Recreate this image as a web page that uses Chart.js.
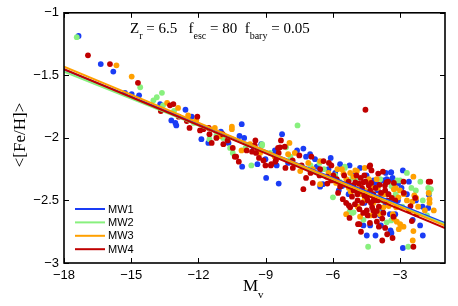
<!DOCTYPE html>
<html>
<head>
<meta charset="utf-8">
<script src="https://cdn.jsdelivr.net/npm/chart.js@4.4.0/dist/chart.umd.min.js"></script>
<style>
    html, body { margin: 0; padding: 0; background: #fff; }
</style>
</head>
<body>
<canvas id="myChart" width="458" height="306"></canvas>
<script>
const seriesNames = ['MW1', 'MW2', 'MW3', 'MW4'];
const colors = ['#1a3cf5', '#88f07e', '#ffa000', '#c00000'];

// [Mv, <[Fe/H]>]
const mw1 = [[-17.35,-1.185],[-16.36,-1.41],[-15.8,-1.47],[-15.28,-1.64],[-14.98,-1.65],[-14.65,-1.66],[-13.71,-1.73],[-12.58,-1.775],
    [-13.21,-1.86],[-13.03,-1.88],[-12.99,-1.90],[-11.87,-2.01],[-11.56,-2.04],[-10.66,-2.04],[-10.07,-1.89],[-10.17,-1.985],[-9.96,-2.00],
    [-10.05,-2.23],[-9.37,-2.21],[-9.55,-2.07],[-9.01,-2.17],[-8.98,-2.32],[-8.51,-2.22],[-8.57,-2.11],[-8.27,-1.97],[-7.32,-2.085],
    [-8.59,-2.10],[-7.02,-2.13],[-8.42,-2.365],[-6.72,-2.23],[-6.1,-2.16],[-5.68,-2.21],[-5.26,-2.22],[-4.79,-2.24],[-4.13,-2.365],
    [-4.19,-2.34],[-3.75,-2.34],[-3.41,-2.275],[-2.88,-2.26],[-3.6,-2.33],[-3.36,-2.33],[-3.09,-2.365],[-2.61,-2.35],[-2.94,-2.40],
    [-4.19,-2.355],[-4.04,-2.365],[-1.72,-2.455],[-2.11,-2.70],[-1.99,-2.78],[-2.88,-2.88],[-2.44,-2.655],[-3.39,-2.76],[-4.1,-2.78],
    [-4.49,-2.78],[-3.86,-2.70],[-5.74,-2.42],[-6.45,-2.37],[-6.57,-2.39],[-5.59,-2.385],[-3.66,-2.52],[-3.8,-2.58],[-4.64,-2.70],
    [-4.34,-2.70],[-3.64,-2.28],[-3.4,-2.275],[-3.34,-2.32],[-3.46,-2.61],[-3.22,-2.61],[-3.43,-2.74],[-1.75,-2.56],[-6.8,-2.17],
    [-5.1,-2.30],[-4.5,-2.30],[-7.6,-2.10],[-5.9,-2.28],[-4.0,-2.42],[-3.55,-2.45],[-3.1,-2.50],[-2.7,-2.45],[-2.3,-2.50],[-2.0,-2.55],
    [-4.6,-2.52],[-5.3,-2.45],[-6.2,-2.25],[-7.2,-2.15],[-8.0,-2.20],[-9.2,-2.05],[-11.0,-1.95],[-12.3,-1.83],[-3.9,-2.62]];
const mw2 = [[-17.43,-1.195],[-14.6,-1.595],[-14.01,-1.70],[-13.86,-1.675],[-13.63,-1.64],[-13.58,-1.74],[-13.09,-1.785],[-11.51,-2.01],
    [-10.59,-2.08],[-10.47,-2.12],[-9.64,-2.22],[-9.16,-2.06],[-7.58,-1.90],[-9.16,-2.05],[-8.09,-2.075],[-5.47,-2.24],[-5.14,-2.32],
    [-4.93,-2.32],[-2.70,-2.28],[-1.75,-2.40],[-1.63,-2.41],[-3.89,-2.33],[-3.13,-2.34],[-3.39,-2.385],[-1.99,-2.50],[-2.64,-2.87],
    [-3.33,-2.63],[-4.43,-2.87],[-6.0,-2.475],[-5.26,-2.59],[-5.14,-2.60],[-5.47,-2.23],[-3.6,-2.675],[-5.08,-2.595],[-4.64,-2.655],
    [-3.4,-2.66],[-3.0,-2.34],[-1.7,-2.44],[-2.3,-2.42],[-6.4,-2.25],[-7.0,-2.22],[-8.8,-2.12],[-11.2,-1.98],[-12.2,-1.88],
    [-4.2,-2.45],[-5.7,-2.35],[-2.9,-2.55],[-4.4,-2.35],[-3.8,-2.50],[-3.2,-2.45],[-2.5,-2.40],[-2.1,-2.35],[-4.9,-2.42],[-5.9,-2.30],
    [-6.6,-2.20],[-7.9,-2.15],[-9.9,-2.08],[-10.9,-2.00],[-1.8,-2.62],[-4.0,-2.58]];
const mw3 = [[-15.66,-1.42],[-14.98,-1.51],[-12.91,-1.76],[-12.46,-1.82],[-11.27,-1.92],[-10.51,-1.91],[-10.51,-1.93],[-11.04,-1.985],
    [-10.08,-2.10],[-9.25,-2.12],[-7.94,-2.04],[-7.46,-2.265],[-6.57,-2.37],[-6.57,-2.185],[-5.53,-2.285],[-5.23,-2.28],[-5.08,-2.31],
    [-4.93,-2.265],[-5.47,-2.37],[-5.29,-2.40],[-4.58,-2.24],[-2.41,-2.31],[-1.69,-2.49],[-1.69,-2.52],[-2.37,-2.46],[-2.29,-2.48],
    [-2.46,-2.51],[-2.41,-2.745],[-2.44,-2.82],[-2.85,-2.71],[-3.06,-2.73],[-3.15,-2.67],[-3.0,-2.69],[-3.33,-2.61],[-3.18,-2.555],
    [-5.41,-2.61],[-3.75,-2.555],[-3.51,-2.545],[-4.79,-2.63],[-4.34,-2.62],[-3.89,-2.61],[-4.58,-2.42],[-4.79,-2.37],[-5.86,-2.36],
    [-1.5,-2.58],[-3.28,-2.41],[-3.01,-2.42],[-3.08,-2.475],[-2.84,-2.45],[-3.28,-2.645],[-1.73,-2.44],[-5.6,-2.25],[-5.0,-2.26],
    [-4.4,-2.33],[-4.0,-2.40],[-6.2,-2.28],[-7.1,-2.20],[-8.0,-2.13],[-4.6,-2.50],[-4.2,-2.52],[-3.9,-2.46],[-5.2,-2.43],
    [-5.8,-2.25],[-5.4,-2.33],[-5.0,-2.40],[-4.8,-2.45],[-4.45,-2.45],[-4.25,-2.40],[-4.05,-2.33],[-3.7,-2.45],[-3.45,-2.50],
    [-3.2,-2.40],[-2.7,-2.50],[-2.2,-2.55],[-1.9,-2.58],[-6.9,-2.25],[-7.7,-2.12],[-8.6,-2.15],[-9.7,-2.05],[-12.1,-1.86],
    [-13.4,-1.72],[-4.9,-2.55]];
const mw4 = [[-16.93,-1.34],[-15.95,-1.41],[-14.7,-1.56],[-13.68,-1.785],[-13.27,-1.74],[-13.12,-1.73],[-12.88,-1.83],[-12.52,-1.865],
    [-12.40,-1.92],[-12.05,-1.83],[-11.93,-1.94],[-11.78,-1.93],[-11.54,-1.92],[-11.51,-1.97],[-11.41,-2.04],[-10.92,-1.97],[-10.89,-2.05],
    [-10.32,-2.15],[-10.20,-2.19],[-9.85,-2.10],[-9.61,-2.11],[-9.43,-2.12],[-9.01,-2.22],[-8.77,-2.22],[-8.45,-2.08],[-8.42,-2.12],
    [-8.54,-2.175],[-8.36,-2.075],[-8.15,-2.07],[-7.50,-2.14],[-6.96,-2.15],[-9.1,-2.18],[-8.75,-2.21],[-8.57,-2.19],[-8.12,-2.24],
    [-7.79,-2.24],[-7.32,-2.41],[-6.90,-2.36],[-7.2,-2.32],[-6.42,-2.185],[-6.18,-2.20],[-6.07,-2.22],[-6.27,-2.31],[-6.07,-2.34],
    [-5.83,-2.33],[-5.68,-2.39],[-5.0,-2.355],[-4.84,-2.365],[-4.55,-1.775],[-4.37,-2.23],[-4.28,-2.26],[-3.98,-2.285],[-3.77,-2.27],
    [-1.66,-2.35],[-3.54,-2.35],[-3.68,-2.38],[-3.92,-2.375],[-2.85,-2.35],[-2.26,-2.61],[-2.41,-2.87],[-3.30,-2.63],[-4.75,-2.75],
    [-4.82,-2.69],[-3.8,-2.82],[-5.77,-2.44],[-5.56,-2.49],[-5.41,-2.52],[-5.29,-2.54],[-5.26,-2.64],[-4.88,-2.69],[-8.32,-2.02],
    [-9.46,-2.02],[-9.49,-2.06],[-10.47,-2.08],[-10.38,-2.15],[-3.8,-2.645],[-5.02,-2.53],[-4.82,-2.57],[-5.23,-2.555],[-4.04,-2.67],
    [-3.95,-2.71],[-4.49,-2.58],[-4.25,-2.555],[-4.04,-2.585],[-4.34,-2.42],[-4.49,-2.475],[-4.19,-2.50],[-5.08,-2.42],[-4.91,-2.45],
    [-4.76,-2.32],[-4.64,-2.355],[-5.98,-2.30],[-6.25,-2.365],[-6.57,-2.25],[-4.34,-2.22],[-3.61,-2.355],[-3.28,-2.36],[-2.33,-2.48],
    [-3.67,-2.42],[-3.52,-2.45],[-3.37,-2.48],[-3.22,-2.50],[-3.58,-2.50],[-2.84,-2.44],[-2.54,-2.545],[-2.6,-2.58],[-2.48,-2.665],
    [-3.58,-2.77],[-3.34,-2.80],[-3.67,-2.72],[-1.73,-2.35],[-4.4,-2.38],[-4.2,-2.45],[-4.1,-2.40],[-4.3,-2.52],[-4.45,-2.62],
    [-4.15,-2.62],[-4.0,-2.50],[-4.6,-2.46],[-4.7,-2.52],[-5.5,-2.30],[-5.3,-2.35],[-5.1,-2.38],[-4.95,-2.30],[-4.7,-2.40],
    [-4.55,-2.35],[-4.45,-2.50],[-4.3,-2.36],[-4.2,-2.58],[-4.1,-2.48],[-3.95,-2.55],[-3.85,-2.44],[-3.75,-2.60],[-4.65,-2.60],
    [-4.9,-2.50],[-5.15,-2.47],[-4.35,-2.68],[-4.6,-2.30],[-7.8,-2.18],[-7.4,-2.22],[-7.0,-2.28],[-6.6,-2.30],[-10.7,-2.02],
    [-11.2,-2.00],[-9.3,-2.16]];

// linear fits, end points
const fitX = [-18, -1];
const fitMW1 = [-1.455, -2.68];
const fitMW2 = [-1.47, -2.69];
const fitMW3 = [-1.43, -2.70];
const fitMW4 = [-1.45, -2.72];

const xTicks = [-18, -15, -12, -9, -6, -3];
const yTicks = [-3, -2.5, -2, -1.5, -1];

const points = [mw1, mw2, mw3, mw4];
const fits = [fitMW1, fitMW2, fitMW3, fitMW4];

let datasets = [];
for (let i = 0; i < 4; i++) {
    datasets.push({
        label: seriesNames[i],
        data: fits[i].map((y, j) => ({ x: fitX[j], y: y })),
        showLine: true,
        borderColor: colors[i],
        borderWidth: 2,
        pointRadius: 0,
        order: 3 - i
    });
}
for (let i = 0; i < 4; i++) {
    datasets.push({
        label: seriesNames[i] + ' pts',
        data: points[i].map(p => ({ x: p[0], y: p[1] })),
        backgroundColor: colors[i],
        borderWidth: 0,
        pointRadius: 2.9,
        order: 10 - i
    });
}

function minus(v) {
    return String(v).replace('-', '\u2212');
}

function drawParts(ctx, parts, x, y) {
    for (const p of parts) {
        ctx.font = p[1] ? '10px "Liberation Serif"' : '15px "Liberation Serif"';
        ctx.fillText(p[0], x, p[1] ? y + 6 : y);
        x += ctx.measureText(p[0]).width;
    }
}

const extras = {
    id: 'extras',
    afterDraw(chart) {
        const ctx = chart.ctx;
        const a = chart.chartArea;
        const xs = chart.scales.x;
        const ys = chart.scales.y;
        ctx.save();
        ctx.strokeStyle = '#000';
        ctx.fillStyle = '#000';

        ctx.lineWidth = 1;
        ctx.beginPath();
        for (const v of xTicks) {
            const px = Math.round(xs.getPixelForValue(v)) + 0.5;
            ctx.moveTo(px, a.bottom); ctx.lineTo(px, a.bottom - 5);
            ctx.moveTo(px, a.top); ctx.lineTo(px, a.top + 5);
        }
        for (const v of yTicks) {
            const py = Math.round(ys.getPixelForValue(v)) + 0.5;
            ctx.moveTo(a.left, py); ctx.lineTo(a.left + 5, py);
            ctx.moveTo(a.right, py); ctx.lineTo(a.right - 5, py);
        }
        ctx.stroke();

        ctx.lineWidth = 1.6;
        ctx.strokeRect(a.left, a.top, a.right - a.left, a.bottom - a.top);

        // parameters text
        ctx.textAlign = 'left';
        ctx.textBaseline = 'alphabetic';
        drawParts(ctx, [['Z', 0], ['r', 1], [' = 6.5   f', 0], ['esc', 1], [' = 80  f', 0], ['bary', 1], [' = 0.05', 0]], 130, 33);

        // legend
        ctx.font = '11px "Liberation Sans"';
        ctx.textBaseline = 'middle';
        for (let i = 0; i < 4; i++) {
            const y = 209 + i * 13.4;
            ctx.strokeStyle = colors[i];
            ctx.lineWidth = 2;
            ctx.beginPath();
            ctx.moveTo(75, y); ctx.lineTo(105, y);
            ctx.stroke();
            ctx.fillText(seriesNames[i], 108, y + 0.5);
        }

        // axis titles
        ctx.textBaseline = 'alphabetic';
        ctx.font = '17px "Liberation Serif"';
        ctx.fillText('M', 243, 291);
        ctx.font = '11px "Liberation Serif"';
        ctx.fillText('v', 258, 298);

        ctx.translate(21, 135);
        ctx.rotate(-Math.PI / 2);
        ctx.textAlign = 'center';
        ctx.textBaseline = 'middle';
        ctx.font = '17px "Liberation Serif"';
        ctx.fillText('<[Fe/H]>', 0, 0);
        ctx.restore();
    }
};

new Chart('myChart', {
    type: 'scatter',
    data: { datasets: datasets },
    options: {
        responsive: false,
        animation: false,
        devicePixelRatio: 1,
        layout: { padding: { top: 10, right: 13, left: 0, bottom: 0 } },
        plugins: {
            legend: { display: false },
            tooltip: { enabled: false }
        },
        scales: {
            x: {
                type: 'linear',
                min: -18,
                max: -1,
                grid: { display: false, drawTicks: false },
                border: { display: false },
                afterBuildTicks: ax => { ax.ticks = xTicks.map(v => ({ value: v })); },
                afterFit: ax => { ax.height = 43; },
                ticks: {
                    color: '#000',
                    padding: 5,
                    font: { family: '"Liberation Sans"', size: 13 },
                    callback: v => minus(v)
                }
            },
            y: {
                type: 'linear',
                min: -3,
                max: -1,
                grid: { display: false, drawTicks: false },
                border: { display: false },
                afterBuildTicks: ax => { ax.ticks = yTicks.map(v => ({ value: v })); },
                afterFit: ax => { ax.width = 64; },
                ticks: {
                    color: '#000',
                    padding: 5,
                    font: { family: '"Liberation Sans"', size: 13 },
                    callback: v => minus(v)
                }
            }
        }
    },
    plugins: [extras]
});
</script>
</body>
</html>
